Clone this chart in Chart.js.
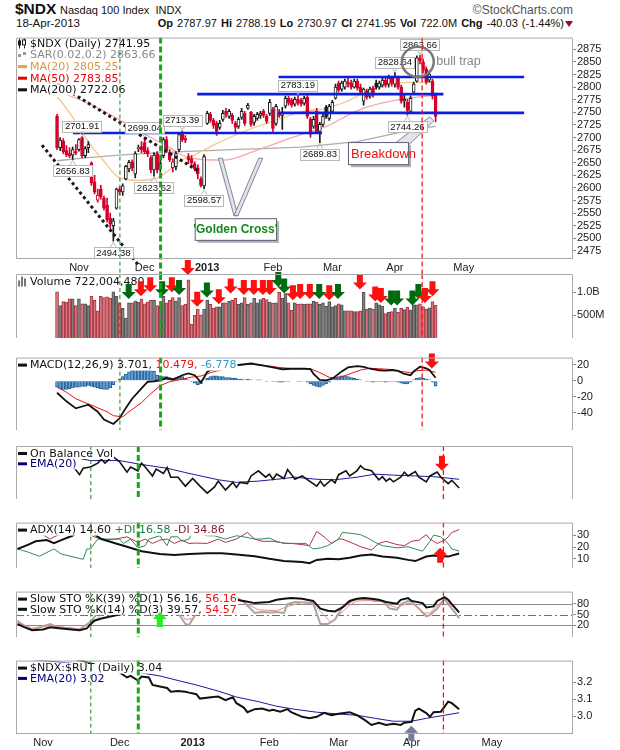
<!DOCTYPE html>
<html>
<head>
<meta charset="utf-8">
<title>$NDX Nasdaq 100 Index</title>
<script src="https://cdn.jsdelivr.net/npm/chart.js@4.4.1/dist/chart.umd.min.js"></script>
<style>
  html, body { margin: 0; padding: 0; background: #fff; }
  #page { position: relative; width: 620px; height: 750px; overflow: hidden;
          font-family: "Liberation Sans", Arial, sans-serif; color: #111; }
  .t { position: absolute; white-space: nowrap; line-height: 14px; }
  canvas { position: absolute; left: 0; }
</style>
</head>
<body>
<div id="page">
  <div class="t" style="left:15px;top:2px;font-size:15.5px;font-weight:bold">$NDX</div>
  <div class="t" style="left:60px;top:3px;font-size:11px">Nasdaq 100 Index&nbsp;&nbsp;INDX</div>
  <div class="t" style="right:47px;top:3px;font-size:12px;color:#555">&copy;StockCharts.com</div>
  <div class="t" style="left:16px;top:16px;font-size:11.5px">18-Apr-2013</div>
  <div class="t" id="quote" style="right:56px;top:16px;font-size:11px;word-spacing:1px"></div>
  <div class="t" style="left:565px;top:21px;width:0;height:0;border-left:4px solid transparent;border-right:4px solid transparent;border-top:6px solid #9b0a2a"></div>
  <canvas id="cPrice" width="620" height="244" style="top:30px"></canvas>
  <canvas id="cVol" width="620" height="95" style="top:259px"></canvas>
  <canvas id="cMacd" width="620" height="96" style="top:350px"></canvas>
  <canvas id="cObv" width="620" height="69" style="top:446px"></canvas>
  <canvas id="cAdx" width="620" height="69" style="top:515px"></canvas>
  <canvas id="cSto" width="620" height="69" style="top:584px"></canvas>
  <canvas id="cRatio" width="620" height="97" style="top:653px"></canvas>
</div>
<script>
// ---------- data (trading-day index 0 = 19-Oct-2012, 121 = 18-Apr-2013) ----------
const X_MIN = -0.4, X_MAX = 152.2;
const monthStarts = [7, 28, 48, 69, 88, 108, 130];
const monthLabels = ['Nov', 'Dec', '2013', 'Feb', 'Mar', 'Apr', 'May'];

const opens = [
  2742, 2680, 2693, 2674, 2668, 2665, 2672, 2676, 2700, 2664,
  2680, 2650, 2612, 2576, 2598, 2580, 2566, 2540, 2525, 2560,
  2598, 2592, 2618, 2638, 2652, 2628, 2678, 2682, 2690, 2674,
  2660, 2636, 2668, 2650, 2664, 2696, 2670, 2640, 2642, 2676,
  2710, 2698, 2662, 2658, 2648, 2640, 2618, 2604, 2728, 2746,
  2734, 2728, 2720, 2736, 2752, 2742, 2744, 2728, 2722, 2740,
  2748, 2758, 2750, 2730, 2738, 2744, 2752, 2742, 2748, 2756,
  2728, 2750, 2744, 2762, 2778, 2774, 2766, 2776, 2774, 2768,
  2780, 2736, 2722, 2752, 2712, 2726, 2760, 2738, 2752, 2778,
  2808, 2796, 2800, 2810, 2808, 2800, 2812, 2800, 2772, 2792,
  2782, 2798, 2808, 2800, 2804, 2814, 2806, 2818, 2806, 2818,
  2800, 2772, 2770, 2752, 2790, 2812, 2858, 2850, 2836, 2814,
  2812, 2787.97];
const highs = [
  2746, 2700, 2698, 2684, 2680, 2681, 2686, 2698, 2701.91, 2682,
  2692, 2652, 2625, 2598, 2605, 2584, 2580, 2550, 2540, 2600,
  2602, 2608, 2645, 2655, 2656, 2672, 2685, 2692, 2699.04, 2680,
  2664, 2670, 2672, 2656, 2700, 2702, 2676, 2658, 2672, 2708,
  2713.39, 2704, 2668, 2664, 2652, 2646, 2622, 2666, 2752, 2750,
  2738, 2732, 2734, 2754, 2758, 2756, 2748, 2732, 2740, 2758,
  2752, 2768, 2752, 2746, 2750, 2752, 2756, 2746, 2776, 2760,
  2766, 2756, 2760, 2782, 2782, 2778, 2780, 2783.19, 2778, 2782,
  2784, 2740, 2742, 2758, 2730, 2746, 2764, 2766, 2774, 2806,
  2812, 2812, 2816, 2818, 2814, 2816, 2816, 2806, 2798, 2796,
  2800, 2802, 2814, 2812, 2818, 2820, 2824, 2822, 2828.64, 2822,
  2804, 2784, 2776, 2782, 2810, 2862, 2863.66, 2856, 2840, 2832,
  2816, 2788.19];
const lows = [
  2676, 2674, 2668, 2662, 2660, 2656.83, 2666, 2673, 2660, 2660,
  2670, 2605, 2588, 2572, 2578, 2556, 2532, 2520, 2494.38, 2558,
  2586, 2585, 2616, 2632, 2634, 2620, 2672, 2670, 2668, 2662,
  2630, 2623.62, 2630, 2632, 2660, 2672, 2652, 2632, 2636, 2672,
  2692, 2690, 2648, 2644, 2634, 2618, 2602, 2598.57, 2726, 2730,
  2718, 2704, 2716, 2732, 2740, 2738, 2728, 2710, 2718, 2736,
  2724, 2756, 2722, 2724, 2734, 2738, 2740, 2728, 2744, 2712,
  2724, 2740, 2716, 2758, 2764, 2760, 2762, 2764, 2762, 2764,
  2738, 2700, 2718, 2708, 2689.83, 2722, 2738, 2734, 2748, 2776,
  2790, 2792, 2796, 2800, 2796, 2798, 2794, 2786, 2764, 2776,
  2778, 2780, 2796, 2796, 2800, 2800, 2800, 2802, 2800, 2796,
  2768, 2760, 2744.26, 2748, 2788, 2810, 2846, 2828, 2806, 2810,
  2776, 2730.97];
const closes = [
  2680, 2695, 2672, 2666, 2664, 2676, 2670, 2696, 2664, 2678,
  2686, 2610, 2592, 2586, 2582, 2560, 2537, 2528, 2535, 2598,
  2592, 2604, 2643, 2651, 2640, 2668, 2680, 2676, 2672, 2668,
  2636, 2665, 2636, 2640, 2696, 2676, 2656, 2652, 2668, 2706,
  2696, 2695, 2656, 2650, 2638, 2628, 2605, 2662, 2748, 2734,
  2724, 2712, 2728, 2748, 2746, 2752, 2734, 2720, 2736, 2752,
  2728, 2764, 2726, 2742, 2746, 2748, 2744, 2732, 2770, 2718,
  2762, 2744, 2750, 2778, 2768, 2764, 2776, 2768, 2766, 2778,
  2742, 2706, 2736, 2710, 2726, 2742, 2742, 2762, 2770, 2800,
  2794, 2808, 2812, 2806, 2800, 2812, 2798, 2790, 2796, 2780,
  2796, 2784, 2800, 2808, 2814, 2804, 2818, 2808, 2822, 2800,
  2772, 2776, 2754, 2778, 2806, 2858, 2852, 2834, 2810, 2826,
  2781.98, 2741.95];
// volume in millions of shares
const volumes = [
  1012, 710, 797, 785, 855, 855, 710, 855, 750, 750,
  710, 913, 826, 593, 913, 884, 902, 870, 1012, 913,
  768, 651, 436, 768, 768, 808, 785, 855, 750, 790,
  826, 826, 710, 680, 913, 768, 826, 884, 808, 884,
  710, 740, 1274, 302, 494, 634, 506, 634, 826, 739,
  651, 680, 680, 768, 768, 800, 826, 867, 739, 768,
  884, 739, 768, 867, 768, 843, 867, 843, 785, 760,
  768, 1000, 867, 971, 768, 611, 768, 739, 750, 739,
  750, 750, 808, 785, 739, 768, 693, 797, 680, 710,
  750, 727, 593, 593, 593, 580, 576, 593, 1000, 634,
  651, 634, 768, 727, 693, 535, 560, 576, 651, 564,
  651, 622, 669, 611, 727, 727, 750, 680, 634, 660,
  797, 722.00448];

// moving averages  [index, value]
const ma20 = [[0, 2780], [1, 2774], [5, 2740], [10, 2692], [15, 2653], [20, 2620], [26, 2615], [32, 2620], [36, 2636], [39, 2653], [43, 2663], [51, 2688], [60, 2713], [69, 2732], [78, 2751], [86, 2758], [92, 2770], [101, 2797], [110, 2809], [119, 2810], [121, 2805.25]];
const ma50 = [[0, 2792], [10, 2768], [20, 2735], [30, 2700], [36, 2680], [42, 2660], [53, 2655], [64, 2675], [75, 2700], [86, 2722], [97, 2756], [110, 2776], [121, 2783.85]];
const ma200 = [[0, 2654], [10, 2660], [22, 2666], [40, 2672], [56, 2676], [70, 2679], [78, 2681], [96, 2692], [114, 2716], [121, 2722.06]];

// MACD(12,26,9)
const macdLine = [[0, -15], [3, -25.7], [6, -34.5], [8, -32.2], [10, -30], [13, -38.7], [15, -48.5], [18, -54], [20, -46.9], [22, -33.9], [24, -22.5], [27, -9.5], [29, -1.3], [31, -0.7], [33, 0.3], [35, 3.5], [37, 1.2], [40, 6.8], [42, 9.1], [44, 6.8], [46, -2], [47, 4], [48, 11], [49, 13.3], [52, 15.5], [56, 18.8], [62, 21.4], [66, 18.8], [69, 16.5], [72, 14.3], [75, 14.9], [79, 14.9], [81, 14.3], [82, 8.4], [84, 0.9], [86, 0.3], [88, 2.5], [91, 11.6], [93, 16.5], [96, 18.2], [98, 17.2], [100, 14.9], [103, 13], [105, 12.6], [107, 13.3], [109, 12.3], [111, 8.4], [113, 6.8], [114, 11.6], [116, 17.5], [118, 15.5], [119, 13.3], [121, 3.701]];
const macdSignal = [[0, -7.9], [3, -14.4], [6, -22.5], [9, -27.4], [12, -32.2], [16, -38.7], [18, -43.6], [21, -45.2], [23, -38.7], [27, -27.4], [30, -16], [33, -6.2], [36, -1.3], [40, 1.9], [43, 4.5], [46, 5.8], [49, 10], [53, 13.9], [56, 18.2], [62, 20.7], [67, 18.8], [71, 16.5], [76, 14.9], [81, 14.9], [84, 10], [87, 4.2], [90, 3.5], [94, 9.1], [97, 13.3], [100, 15.5], [103, 14.9], [107, 13.9], [110, 11.6], [113, 10], [115, 12.3], [118, 13.3], [121, 10.479]];
const macdHist = [
  -8, -10, -11, -11, -10, -9, -8, -8, -7, -7,
  -6, -7, -8, -9, -10, -11, -11, -9, -5, -1,
  2, 5, 8, 11, 13, 15, 16, 17, 17, 16,
  15, 12, 7, 5, 5, 5, 4, 3, 4, 5,
  5, 3, 1, -1, -3, -5, -4, 1, 3, 5,
  6, 6, 5, 5, 4, 4, 3, 3, 2, 2,
  1, 2, 1, 0, 1, 1, 0, -1, 0, -1,
  -1, -2, -2, -1, -1, 0, 0, -1, -1, 0,
  -2, -4, -6, -7, -8, -6, -4, -2, 1, 3,
  5, 6, 6, 5, 4, 3, 2, 1, 0, -1,
  -1, -2, -1, -1, -1, -2, -1, -1, -1, -2,
  -3, -4, -4, -2, 1, 3, 4, 3, 2, 1,
  -2, -6.778];

// On Balance Volume (relative units) and its EMA(20)
const obv = [[14, 72.5], [17, 45.9], [18, 58], [20, 60.4], [22, 67.6], [23, 74.9], [24, 67.6], [26, 80.7], [28, 70.1], [30, 50.7], [31, 60.4], [33, 53.2], [34, 67.6], [35, 60.4], [37, 43.5], [38, 56.5], [40, 48.3], [41, 59.4], [42, 41.1], [44, 41.1], [46, 24.2], [48, 38.7], [50, 24.2], [52, 11.1], [54, 22.7], [55, 33.8], [57, 17], [59, 31.4], [60, 21.8], [61, 31.4], [63, 29], [64, 43.5], [66, 53.2], [68, 41.1], [69, 46.9], [70, 37.2], [71, 46.9], [73, 38.7], [74, 55.6], [75, 46.9], [76, 37.2], [78, 43.5], [80, 33.8], [82, 24.2], [83, 33.8], [84, 24.2], [86, 36.3], [87, 30.5], [88, 45.9], [90, 53.2], [91, 43.5], [93, 53.2], [94, 62.8], [95, 56.5], [97, 53.2], [99, 36.3], [100, 42.1], [101, 33.8], [102, 38.7], [103, 32.4], [105, 41.1], [106, 50.7], [107, 43.5], [109, 51.7], [110, 41.1], [112, 32.4], [113, 43.5], [115, 50.7], [116, 41.1], [118, 29], [119, 35.3], [121, 20.8]];
const obvEma = [[14, 80.7], [20, 72.5], [28, 72.5], [33, 66.2], [41, 58], [47, 48.3], [55, 36.3], [60, 31.4], [66, 33.8], [71, 37.2], [76, 41.1], [82, 37.2], [87, 36.3], [93, 41.1], [98, 46.9], [103, 45], [109, 43.5], [114, 42.1], [121, 37.2]];

// ADX(14), +DI, -DI
const adx = [[0, 18.4], [3, 22.1], [5, 24.9], [8, 25.9], [10, 23.4], [12, 25.9], [15, 29.6], [17, 33.3], [19, 35], [21, 31], [23, 26.8], [27, 23.1], [30, 20.3], [34, 16.5], [39, 14.1], [43, 13.3], [47, 14.1], [52, 14.7], [56, 14.7], [60, 13.7], [65, 12.2], [69, 10], [73, 8.1], [78, 7.2], [80, 6.3], [82, 9.1], [85, 10], [88, 9.6], [91, 10.9], [94, 12.8], [97, 13.7], [100, 11.9], [104, 10.9], [107, 9.1], [109, 8.1], [112, 11.9], [114, 12.8], [118, 11.9], [121, 14.6]];
const plusDI = [[0, 18.4], [3, 15.6], [6, 12.2], [10, 18.4], [12, 14.1], [18, 9.6], [19, 18.4], [20, 18.4], [22, 26.8], [24, 26.8], [28, 26.8], [29, 23.1], [31, 26.8], [33, 19.3], [35, 21.2], [36, 26.8], [39, 29.6], [41, 21.2], [42, 28.7], [44, 28.7], [45, 24.9], [47, 26.8], [48, 33.3], [49, 32.4], [52, 29.6], [54, 29.6], [57, 26.8], [60, 29.6], [62, 28.7], [65, 26.8], [67, 26.8], [69, 27.7], [71, 24.9], [73, 23.1], [76, 23.1], [79, 23.1], [81, 18.4], [83, 19.3], [85, 21.2], [88, 26.8], [89, 32.4], [92, 31.5], [94, 30.5], [96, 27.7], [98, 24], [100, 21.2], [102, 20.3], [104, 19.3], [107, 20.3], [109, 18.4], [111, 16.5], [113, 24.9], [114, 30.2], [116, 28.7], [118, 23.1], [119, 18.4], [121, 16.58]];
const minusDI = [[0, 36], [5, 33.9], [9, 26.8], [10, 28.7], [13, 32.4], [15, 33.9], [18, 33.9], [21, 28.7], [24, 25.9], [27, 26.8], [30, 28.7], [33, 24], [35, 26.8], [37, 23.1], [39, 25.9], [41, 26.8], [43, 23.1], [45, 25.9], [47, 23.1], [49, 23.4], [52, 23.1], [55, 26.8], [57, 24], [60, 26.8], [63, 32.4], [65, 26.8], [67, 24.9], [70, 24.9], [73, 23.4], [75, 23.1], [78, 22.1], [80, 21.2], [82, 33.3], [84, 28.7], [86, 23.1], [88, 26.8], [89, 26.8], [92, 23.1], [94, 20.3], [97, 17.5], [99, 23.1], [101, 24.9], [104, 22.1], [106, 21.2], [108, 24.9], [110, 25.9], [112, 30.5], [113, 26.8], [115, 23.1], [117, 25.9], [118, 28.7], [119, 32.4], [121, 34.86]];

// Slow stochastics
const stoK39 = [[0, 23.6], [2, 14.4], [4, 6.5], [7, 8.3], [9, 14.4], [12, 11.4], [17, 6.5], [19, 11.4], [21, 32.8], [23, 39], [27, 48.2], [30, 54.3], [33, 54.3], [35, 57.4], [37, 61.7], [38, 55.5], [39, 69.7], [41, 88], [43, 88], [45, 69.7], [47, 60.5], [48, 69.7], [50, 85], [54, 92.4], [58, 94.2], [62, 88], [65, 81.9], [67, 83.8], [69, 85], [71, 91.1], [73, 94.2], [75, 96], [78, 94.2], [81, 88], [83, 66.6], [85, 60.5], [87, 58.6], [89, 69.7], [91, 88], [93, 94.2], [95, 96], [97, 94.2], [99, 91.1], [101, 85], [104, 80.1], [105, 91.1], [107, 96], [108, 88], [111, 81.9], [112, 69.7], [114, 72.7], [115, 88], [117, 98.5], [118, 91.1], [119, 78.9], [121, 56.16]];
const stoK14 = [[0, 32.8], [2, 17.5], [4, 8.3], [7, 17.5], [9, 23.6], [11, 14.4], [15, 11.4], [17, 8.3], [20, 29.8], [22, 54.3], [24, 66.6], [27, 72.7], [30, 75.8], [33, 69.7], [35, 63.5], [37, 48.2], [38, 54.3], [40, 75.8], [42, 85], [44, 54.3], [46, 23.6], [47, 20.6], [49, 54.3], [50, 85], [53, 94.2], [60, 97.3], [62, 85], [65, 54.3], [67, 57.4], [69, 55.5], [71, 57.4], [73, 54.3], [74, 78.9], [76, 85], [79, 83.8], [81, 81.9], [83, 23.6], [85, 23.6], [87, 35.9], [89, 69.7], [92, 91.1], [95, 94.2], [98, 88], [100, 88], [102, 66.6], [104, 63.5], [105, 78.9], [107, 88], [108, 85], [110, 66.6], [112, 45.1], [113, 48.2], [115, 66.6], [117, 94.2], [118, 78.9], [120, 54.3], [121, 39.57]];
const stoD3 = [[0, 29.8], [4, 11.4], [9, 18.7], [17, 9.5], [21, 29.8], [24, 60.5], [28, 72.7], [32, 72.7], [36, 60.5], [38, 53.1], [41, 72.7], [44, 63.5], [46, 35.9], [48, 39], [50, 69.7], [54, 91.1], [60, 96], [63, 78.9], [66, 63.5], [71, 60.5], [74, 72.7], [78, 83.8], [81, 78.9], [84, 48.2], [86, 26.7], [88, 48.2], [91, 75.8], [93, 88], [99, 89.9], [102, 75.8], [104, 69.7], [107, 81.9], [109, 75.8], [111, 54.3], [113, 54.3], [115, 75.8], [117, 91.1], [119, 75.8], [121, 54.57]];

// $NDX:$RUT ratio and EMA(20)
const ratio = [[0, 3.40], [12, 3.36], [20, 3.31], [25, 3.27], [28, 3.257], [30, 3.227], [31, 3.236], [33, 3.209], [34, 3.232], [36, 3.227], [37, 3.183], [39, 3.174], [41, 3.165], [42, 3.143], [44, 3.147], [46, 3.143], [47, 3.138], [49, 3.129], [50, 3.103], [53, 3.111], [55, 3.115], [57, 3.094], [59, 3.111], [60, 3.076], [62, 3.05], [63, 3.023], [65, 3.041], [67, 3.044], [69, 3.032], [70, 3.037], [72, 3.026], [74, 3.041], [75, 3.023], [78, 2.996], [80, 2.987], [82, 2.996], [84, 3.019], [86, 3.005], [88, 3.014], [91, 3.023], [93, 3.005], [95, 2.979], [97, 2.948], [99, 2.961], [101, 2.948], [103, 2.955], [105, 2.948], [106, 2.961], [108, 2.966], [109, 3.032], [110, 3.044], [112, 3.018], [113, 2.996], [114, 3.023], [116, 3.026], [118, 3.085], [119, 3.076], [121, 3.04]];
const ratioEma = [[0, 3.34], [20, 3.30], [33, 3.257], [39, 3.236], [44, 3.209], [49, 3.183], [55, 3.147], [60, 3.112], [66, 3.085], [71, 3.058], [76, 3.04], [82, 3.023], [87, 3.014], [93, 3.005], [98, 2.987], [103, 2.97], [108, 2.97], [112, 2.987], [117, 3.005], [121, 3.02]];

// chart annotations, in data units
const supportLevels = [2820, 2786, 2749, 2709];
const supportFrom = [70.8, 44.8, 70.8, 5.1];
const supportTo = [149.3, 123.5, 149.3, 84.7];
const trendLines = [[[-4.8, 2825], [45.6, 2632]], [[-4.8, 2685], [25.9, 2448]]];
const tagIdx = [8, 28, 40, 77, 108, 116, 5, 18, 31, 47, 84, 112];
const tagIsHigh = [1, 1, 1, 1, 1, 1, 0, 0, 0, 0, 0, 0];
const goldenBox = [44, 2540, 70, 2497];
const goldenTips = [[52.2, 2659], [65.1, 2659]];
const goldenBase = [57.2, 2545];
const breakBox = [93, 2691, 112.2, 2647];
const breakWedge = [[108.5, 2691], [119.1, 2741], [120.4, 2733], [112.2, 2684]];
const trapCircle = [115.3, 2850.3];
const trapLabel = [121.2, 2851.6];
const markIdx = [20.1, 33.1, 116.7];
const volArrowIdx = [22.9, 26.8, 29.8, 33.6, 36.7, 39.0, 41.8, 44.8, 47.9, 51.7, 55.5, 59.7, 62.9, 65.8, 68, 70.7, 72.6, 75.4, 77.7, 80.8, 83.8, 87, 89.8, 96.8, 101.7, 103.5, 106.8, 108.7, 113.6, 115.5, 117.6, 120];
const volArrowTip = [855, 913, 1000, 913, 1000, 942, 1379, 681, 884, 739, 971, 942, 942, 942, 942, 1117, 971, 826, 855, 855, 855, 826, 855, 1059, 797, 768, 710, 710, 710, 855, 768, 913];
const volArrowKind = 'grrgrgrrgrrrrrrggrrrgrgrrrggggrr';

// ---------- helpers ----------
const AXF = "'Liberation Sans', Arial, sans-serif";
const LGF = "'DejaVu Sans', Verdana, sans-serif";
Chart.defaults.font.family = AXF;

const P = arr => arr.map(([x, y]) => ({ x, y }));
const last = arr => arr[arr.length - 1];
const lastV = arr => last(arr)[1];
const f2 = v => v.toFixed(2);

const idx = closes.map((_, i) => i);
const isUp = idx.map(i => i === 0 ? closes[0] >= opens[0] : closes[i] >= closes[i - 1]);
const ink = isUp.map(u => u ? '#1a1a1a' : '#d5002b');

function xScale(show, h) {
  return {
    type: 'linear', min: X_MIN, max: X_MAX, display: show, bounds: 'data',
    afterBuildTicks: ax => { ax.ticks = monthStarts.map(v => ({ value: v })); },
    afterFit: ax => { ax.height = h || 16; },
    ticks: {
      autoSkip: false, maxRotation: 0, padding: 2, color: '#222',
      callback: v => monthLabels[monthStarts.indexOf(v)],
      font: c => ({ family: AXF, size: 11, weight: c.tick && c.tick.value === 48 ? 'bold' : 'normal' })
    },
    grid: { display: false, drawTicks: false, tickLength: 0 }, border: { display: false }
  };
}

function yScale(min, max, ticks, fmt) {
  return {
    position: 'right', min, max, bounds: 'data',
    afterBuildTicks: ax => { ax.ticks = ticks.map(v => ({ value: v })); },
    afterFit: ax => { ax.width = 47; },
    ticks: { autoSkip: false, callback: fmt || (v => String(v)), font: { family: AXF, size: 11 }, color: '#222', padding: 1 },
    grid: { drawOnChartArea: false, drawTicks: true, tickLength: 3, color: '#8a8a8a' },
    border: { display: false }
  };
}

function lineDs(data, color, width, extra) {
  return Object.assign({ type: 'line', data: P(data), borderColor: color, borderWidth: width,
    pointRadius: 0, fill: false, tension: 0 }, extra || {});
}

function drawIcon(ctx, kind, color, x, y) {
  ctx.fillStyle = color; ctx.strokeStyle = color; ctx.lineWidth = 1;
  if (kind === 'line') ctx.fillRect(x + 1, y - 1.5, 9, 3);
  else if (kind === 'candle') {
    ctx.fillRect(x + 2, y - 5, 1, 10); ctx.fillRect(x + 1, y - 3, 3, 5);
    ctx.fillRect(x + 7, y - 5, 1, 10); ctx.fillStyle = '#fff'; ctx.fillRect(x + 6, y - 3, 3, 5);
    ctx.strokeRect(x + 5.5, y - 3.5, 3, 5);
  } else if (kind === 'squares') {
    ctx.fillRect(x + 1, y - 1, 3, 3); ctx.fillRect(x + 6, y - 3, 3, 3);
  } else if (kind === 'bars') {
    ctx.fillRect(x + 1, y - 1, 2, 6); ctx.fillRect(x + 4, y - 5, 2, 10); ctx.fillRect(x + 7, y - 3, 2, 8);
  }
}

function drawLegend(chart, rows, top, step) {
  const { ctx, chartArea: a } = chart;
  ctx.font = `11px ${LGF}`;
  ctx.textBaseline = 'middle'; ctx.textAlign = 'left';
  rows.forEach((row, r) => {
    const y = a.top + top + r * step;
    const x0 = a.left + 1;
    let w = 13;
    row.parts.forEach(p => { w += ctx.measureText(p[0]).width; });
    ctx.fillStyle = '#fff';
    ctx.fillRect(x0, y - 5.5, w + 1, 11);
    drawIcon(ctx, row.icon, row.iconColor, x0, y);
    let x = x0 + 13;
    row.parts.forEach(([t, c]) => { ctx.fillStyle = c; ctx.fillText(t, x, y + 0.5); x += ctx.measureText(t).width; });
  });
}

function drawArrow(ctx, x, tip, up, color) {
  const d = up ? -1 : 1, hw = 7, sw = 3, hh = 7, len = 15;
  ctx.beginPath();
  ctx.moveTo(x, tip);
  ctx.lineTo(x - hw, tip - d * hh); ctx.lineTo(x - sw, tip - d * hh);
  ctx.lineTo(x - sw, tip - d * len); ctx.lineTo(x + sw, tip - d * len);
  ctx.lineTo(x + sw, tip - d * hh); ctx.lineTo(x + hw, tip - d * hh);
  ctx.closePath();
  ctx.fillStyle = color; ctx.fill();
}

const markStyle = [
  { c: '#1c7d1c', w: 1, d: [4, 3] },
  { c: '#14a814', w: 3, d: [6, 3] },
  { c: '#f01818', w: 1.3, d: [5, 3] }
];

function panelPlugin(cfg) {
  return {
    id: 'panel',
    beforeDatasetsDraw(chart) {
      if (!cfg.refLines) return;
      const { ctx, chartArea: a, scales: { y } } = chart;
      ctx.save();
      cfg.refLines.forEach(([v, dash]) => {
        const py = Math.round(y.getPixelForValue(v)) + 0.5;
        ctx.strokeStyle = dash ? '#707070' : '#8a8a8a'; ctx.lineWidth = 1;
        ctx.setLineDash(dash ? [8, 3, 2, 3] : []);
        ctx.beginPath(); ctx.moveTo(a.left, py); ctx.lineTo(a.right, py); ctx.stroke();
      });
      ctx.restore();
    },
    afterDatasetsDraw(chart) {
      const { ctx, chartArea: a, scales: { x, y } } = chart;
      ctx.save();
      if (cfg.decor) cfg.decor(chart);
      if (cfg.legend) drawLegend(chart, cfg.legend, cfg.legendTop || 7.5, cfg.legendStep || 10.4);
      (cfg.arrows || []).forEach(ar => drawArrow(ctx, x.getPixelForValue(ar.i), y.getPixelForValue(ar.v), ar.up, ar.c));
      const yEnd = cfg.marksToCanvas ? chart.height : a.bottom;
      markIdx.forEach((m, k) => {
        const s = markStyle[k], px = x.getPixelForValue(m);
        ctx.strokeStyle = s.c; ctx.lineWidth = s.w; ctx.setLineDash(s.d);
        ctx.beginPath(); ctx.moveTo(px, a.top); ctx.lineTo(px, yEnd); ctx.stroke();
      });
      ctx.setLineDash([]);
      ctx.strokeStyle = '#a9a9a9'; ctx.lineWidth = 1;
      ctx.beginPath();
      ctx.moveTo(a.left + 0.5, a.bottom); ctx.lineTo(a.left + 0.5, a.top + 0.5);
      ctx.lineTo(a.right - 0.5, a.top + 0.5); ctx.lineTo(a.right - 0.5, a.bottom);
      if (cfg.frameBottom) { ctx.moveTo(a.left, a.bottom - 0.5); ctx.lineTo(a.right, a.bottom - 0.5); }
      ctx.stroke();
      ctx.restore();
    }
  };
}

function makeChart(id, datasets, yOpts, cfg, xOpt) {
  return new Chart(document.getElementById(id), {
    type: 'line',
    data: { datasets },
    options: {
      responsive: false, animation: false, events: [],
      layout: { padding: { left: 16, right: 0, top: cfg.padTop || 0, bottom: 0 } },
      plugins: { legend: { display: false }, tooltip: { enabled: false } },
      scales: { x: xOpt || xScale(false), y: yOpts }
    },
    plugins: [panelPlugin(cfg)]
  });
}

// ---------- header quote line ----------
const n = closes.length - 1;
const chg = closes[n] - closes[n - 1];
document.getElementById('quote').innerHTML =
  `<b>Op</b> ${f2(opens[n])} <b>Hi</b> ${f2(highs[n])} <b>Lo</b> ${f2(lows[n])} <b>Cl</b> ${f2(closes[n])} ` +
  `<b>Vol</b> ${volumes[n].toFixed(1)}M <b>Chg</b> ${f2(chg)} (${(chg / closes[n - 1] * 100).toFixed(2)}%)`;

// ---------- price panel ----------
function priceDecor(chart) {
  const { ctx, scales: { x, y } } = chart;
  const X = v => x.getPixelForValue(v), Y = v => y.getPixelForValue(v);

  ctx.strokeStyle = '#0a1ee6'; ctx.lineWidth = 2.6;
  supportLevels.forEach((lv, k) => {
    ctx.beginPath(); ctx.moveTo(X(supportFrom[k]), Y(lv)); ctx.lineTo(X(supportTo[k]), Y(lv)); ctx.stroke();
  });

  ctx.strokeStyle = '#1a1a1a'; ctx.lineWidth = 3; ctx.setLineDash([3, 3]);
  trendLines.forEach(([p0, p1]) => {
    ctx.beginPath(); ctx.moveTo(X(p0[0]), Y(p0[1])); ctx.lineTo(X(p1[0]), Y(p1[1])); ctx.stroke();
  });
  ctx.setLineDash([]);

  // Golden Cross callout
  const bw = X(goldenBase[0]), bh = Y(goldenBase[1]);
  goldenTips.forEach(([ti, tp]) => {
    const tx = X(ti), ty = Y(tp);
    ctx.beginPath();
    ctx.moveTo(tx - 2, ty); ctx.lineTo(tx + 2, ty); ctx.lineTo(bw + 2, bh); ctx.lineTo(bw - 2, bh); ctx.closePath();
    ctx.fillStyle = '#e2e2ea'; ctx.fill(); ctx.strokeStyle = '#6a6a80'; ctx.lineWidth = 0.8; ctx.stroke();
  });
  let x0 = X(goldenBox[0]), y0 = Y(goldenBox[1]), x1 = X(goldenBox[2]), y1 = Y(goldenBox[3]);
  ctx.fillStyle = '#b4b4b4'; ctx.fillRect(x0 + 3, y0 + 3, x1 - x0, y1 - y0);
  ctx.fillStyle = '#fff'; ctx.fillRect(x0, y0, x1 - x0, y1 - y0);
  ctx.strokeStyle = '#5e6078'; ctx.lineWidth = 1; ctx.strokeRect(x0 + 0.5, y0 + 0.5, x1 - x0, y1 - y0);
  ctx.font = `bold 12px ${AXF}`; ctx.fillStyle = '#14891a'; ctx.textAlign = 'center'; ctx.textBaseline = 'middle';
  ctx.fillText("'Golden Cross'", (x0 + x1) / 2, (y0 + y1) / 2 + 1);

  // Breakdown callout
  ctx.beginPath();
  breakWedge.forEach(([wi, wp], k) => (k ? ctx.lineTo(X(wi), Y(wp)) : ctx.moveTo(X(wi), Y(wp))));
  ctx.closePath(); ctx.fillStyle = '#e2e2ea'; ctx.fill(); ctx.strokeStyle = '#6a6a80'; ctx.lineWidth = 0.8; ctx.stroke();
  x0 = X(breakBox[0]); y0 = Y(breakBox[1]); x1 = X(breakBox[2]); y1 = Y(breakBox[3]);
  ctx.fillStyle = '#b4b4b4'; ctx.fillRect(x0 + 3, y0 + 3, x1 - x0, y1 - y0);
  ctx.fillStyle = '#fff'; ctx.fillRect(x0, y0, x1 - x0, y1 - y0);
  ctx.strokeStyle = '#5e6078'; ctx.lineWidth = 1; ctx.strokeRect(x0 + 0.5, y0 + 0.5, x1 - x0, y1 - y0);
  ctx.font = `13px ${AXF}`; ctx.fillStyle = '#ee1111'; ctx.textAlign = 'left';
  ctx.fillText('Breakdown', x0 + 3, (y0 + y1) / 2 + 1);

  // high / low value tags
  ctx.font = `9.5px ${AXF}`; ctx.textAlign = 'center'; ctx.textBaseline = 'middle';
  tagIdx.forEach((i, k) => {
    const hi = tagIsHigh[k], val = hi ? highs[i] : lows[i];
    const px = X(i), py = Y(val), text = f2(val);
    const w = ctx.measureText(text).width + 5, h = 11;
    const bx = px - w / 2, by = hi ? py - 5 - h : py + 6;
    ctx.strokeStyle = '#b8b8b8'; ctx.lineWidth = 1;
    ctx.beginPath();
    if (hi) { ctx.moveTo(px - 3, by + h); ctx.lineTo(px, py - 1); ctx.lineTo(px + 3, by + h); }
    else { ctx.moveTo(px - 3, by); ctx.lineTo(px, py + 1); ctx.lineTo(px + 3, by); }
    ctx.stroke();
    ctx.fillStyle = '#fff'; ctx.fillRect(bx, by, w, h);
    ctx.strokeRect(Math.round(bx) + 0.5, Math.round(by) + 0.5, Math.round(w), h);
    ctx.fillStyle = '#111'; ctx.fillText(text, px, by + h / 2 + 0.5);
  });

  // bull trap
  ctx.strokeStyle = '#7a7a7a'; ctx.lineWidth = 2.5;
  ctx.beginPath(); ctx.ellipse(X(trapCircle[0]), Y(trapCircle[1]), 16, 15, 0, 0, Math.PI * 2); ctx.stroke();
  ctx.font = `12.5px ${AXF}`; ctx.fillStyle = '#858585'; ctx.textAlign = 'left';
  ctx.fillText('bull trap', X(trapLabel[0]), Y(trapLabel[1]));
}

const wickData = idx.map(i => ({ x: i, y: [lows[i], highs[i]] }));
const bodyData = idx.map(i => {
  let lo = Math.min(opens[i], closes[i]), hi = Math.max(opens[i], closes[i]);
  if (hi - lo < 0.8) { lo -= 0.4; hi += 0.4; }
  return { x: i, y: [lo, hi] };
});

makeChart('cPrice', [
  lineDs(ma200, 'rgb(172,172,172)', 1.3, { order: 5 }),
  lineDs(ma50, 'rgb(244,168,168)', 1.3, { order: 4, cubicInterpolationMode: 'monotone' }),
  lineDs(ma20, 'rgb(244,198,140)', 1.3, { order: 3, cubicInterpolationMode: 'monotone' }),
  { type: 'bar', data: wickData, backgroundColor: ink, barThickness: 1, grouped: false, order: 2 },
  { type: 'bar', data: bodyData, grouped: false, order: 1, barThickness: 3, borderWidth: 1, borderSkipped: false,
    backgroundColor: idx.map(i => closes[i] > opens[i] ? '#ffffff' : ink[i]), borderColor: ink }
], yScale(2459.1, 2898.2, [2475, 2500, 2525, 2550, 2575, 2600, 2625, 2650, 2675, 2700, 2725, 2750, 2775, 2800, 2825, 2850, 2875]), {
  decor: priceDecor, marksToCanvas: true, frameBottom: true, legendTop: 5.8, legendStep: 11.6,
  legend: [
    { icon: 'candle', iconColor: '#1a1a1a', parts: [[`$NDX (Daily) ${f2(closes[n])}`, '#111']] },
    { icon: 'squares', iconColor: '#999', parts: [['SAR(0.02,0.2) 2863.66', '#888']] },
    { icon: 'line', iconColor: '#e2a54a', parts: [[`MA(20) ${f2(lastV(ma20))}`, '#d69a36']] },
    { icon: 'line', iconColor: '#ee0000', parts: [[`MA(50) ${f2(lastV(ma50))}`, '#ee0000']] },
    { icon: 'line', iconColor: '#111', parts: [[`MA(200) ${f2(lastV(ma200))}`, '#111']] }
  ]
}, xScale(true, 15));

// ---------- volume ----------
makeChart('cVol', [
  { type: 'bar', data: idx.map(i => ({ x: i, y: volumes[i] })), barThickness: 3, borderWidth: 1, grouped: false,
    backgroundColor: isUp.map(u => u ? 'rgb(128,128,128)' : 'rgb(214,120,126)'),
    borderColor: isUp.map(u => u ? 'rgb(80,80,80)' : 'rgb(168,52,64)') }
], yScale(0, 1400, [500, 1000], v => v >= 1000 ? (v / 1000).toFixed(1) + 'B' : v + 'M'), {
  padTop: 15,
  legend: [{ icon: 'bars', iconColor: '#777', parts: [[`Volume ${Math.round(volumes[n] * 1e6).toLocaleString('en-US')}`, '#111']] }],
  arrows: volArrowIdx.map((i, k) => ({ i, v: volArrowTip[k], up: false, c: volArrowKind[k] === 'g' ? '#006a10' : '#ff1010' }))
});

// ---------- MACD ----------
makeChart('cMacd', [
  lineDs(macdLine, '#111', 1.8, { order: 1 }),
  lineDs(macdSignal, '#ee1111', 1, { order: 2 }),
  { type: 'bar', data: idx.map(i => ({ x: i, y: macdHist[i] })), barThickness: 3, borderWidth: 1, grouped: false, order: 3,
    backgroundColor: 'rgb(98,164,214)', borderColor: 'rgb(40,94,152)' }
], yScale(-61.5, 28.8, [-40, -20, 0, 20]), {
  padTop: 4,
  legend: [{ icon: 'line', iconColor: '#111', parts: [[`MACD(12,26,9) ${lastV(macdLine).toFixed(3)}, `, '#111'], [`${lastV(macdSignal).toFixed(3)}, `, '#ee1111'], [macdHist[n].toFixed(3), '#3399cc']] }],
  arrows: [{ i: 119.8, v: 15.1, up: false, c: '#ff1010' }]
});

// ---------- On Balance Volume ----------
makeChart('cObv', [
  lineDs(obv, '#111', 1.6),
  lineDs(obvEma, '#1a1a9a', 1)
], yScale(0, 100, []), {
  legendStep: 10.3,
  legend: [
    { icon: 'line', iconColor: '#111', parts: [['On Balance Vol', '#111']] },
    { icon: 'line', iconColor: '#00007a', parts: [['EMA(20)', '#00007a']] }
  ],
  arrows: [{ i: 116.3, v: 53.2, up: false, c: '#ff1010' }]
});

// ---------- ADX ----------
makeChart('cAdx', [
  lineDs(adx, '#111', 2),
  lineDs(plusDI, '#2e8b57', 1),
  lineDs(minusDI, '#b03050', 1)
], yScale(2.2, 40.8, [10, 20, 30]), {
  legend: [{ icon: 'line', iconColor: '#111', parts: [[`ADX(14) ${f2(lastV(adx))} `, '#111'], [`+DI ${f2(lastV(plusDI))} `, '#1d7d3a'], [`-DI ${f2(lastV(minusDI))}`, '#8b1c30']] }],
  arrows: [{ i: 115.8, v: 19.4, up: true, c: '#ff1010' }]
});

// ---------- Slow Stochastics ----------
makeChart('cSto', [
  lineDs(stoK39, '#111', 2, { order: 1 }),
  lineDs(stoD3, '#f08a8a', 1, { order: 2 }),
  lineDs(stoK14, '#a6a6a6', 2, { order: 3 })
], yScale(-12.6, 114, [20, 50, 80]), {
  refLines: [[80, false], [50, true], [20, false]],
  legendStep: 10.2,
  legend: [
    { icon: 'line', iconColor: '#111', parts: [[`Slow STO %K(39) %D(1) ${f2(lastV(stoK39))}, `, '#111'], [f2(lastV(stoK39)), '#ee1111']] },
    { icon: 'line', iconColor: '#111', parts: [[`Slow STO %K(14) %D(3) ${f2(lastV(stoK14))}, `, '#111'], [f2(lastV(stoD3)), '#ee1111']] }
  ],
  arrows: [{ i: 39, v: 57.4, up: true, c: '#22ee22' }]
});

// ---------- $NDX:$RUT ratio ----------
makeChart('cRatio', [
  lineDs(ratio, '#111', 2),
  lineDs(ratioEma, '#1a1a9a', 1)
], yScale(2.895, 3.326, [3.0, 3.1, 3.2], v => v.toFixed(1)), {
  frameBottom: true, legendStep: 10.3,
  legend: [
    { icon: 'line', iconColor: '#111', parts: [[`$NDX:$RUT (Daily) ${f2(lastV(ratio))}`, '#111']] },
    { icon: 'line', iconColor: '#00007a', parts: [[`EMA(20) ${f2(lastV(ratioEma))}`, '#00007a']] }
  ],
  arrows: [{ i: 107.9, v: 2.943, up: true, c: '#787b9a' }]
}, xScale(true, 16));
</script>
</body>
</html>
